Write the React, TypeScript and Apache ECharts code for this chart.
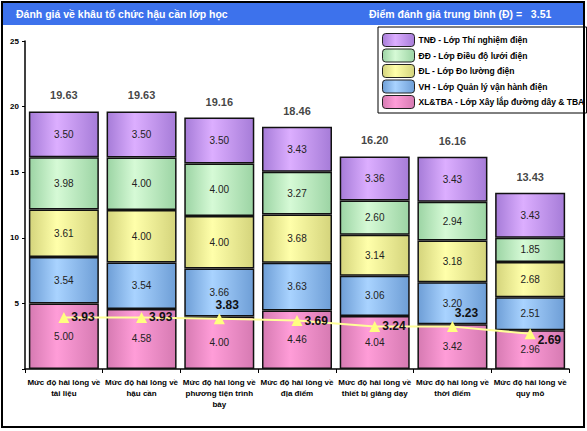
import React, { useEffect, useRef } from 'react';
import * as echarts from 'echarts';

const categories = [
  'Mức độ hài lòng về\ntài liệu',
  'Mức độ hài lòng về\nhậu cần',
  'Mức độ hài lòng về\nphương tiện trình\nbày',
  'Mức độ hài lòng về\nđịa điểm',
  'Mức độ hài lòng về\nthiết bị giảng dạy',
  'Mức độ hài lòng về\nthời điểm',
  'Mức độ hài lòng về\nquy mô',
];
const seriesNames = [
  'TNĐ - Lớp Thí nghiệm điện',
  'ĐĐ - Lớp Điều độ lưới điện',
  'ĐL - Lớp Đo lường điện',
  'VH - Lớp Quản lý vận hành điện',
  'XL&TBA - Lớp Xây lắp đường dây & TBA',
];
const xlTba = [5.0, 4.58, 4.0, 4.46, 4.04, 3.42, 2.96];
const vh = [3.54, 3.54, 3.66, 3.63, 3.06, 3.2, 2.51];
const dl = [3.61, 4.0, 4.0, 3.68, 3.14, 3.18, 2.68];
const dd = [3.98, 4.0, 4.0, 3.27, 2.6, 2.94, 1.85];
const tnd = [3.5, 3.5, 3.5, 3.43, 3.36, 3.43, 3.43];
const totals = [19.63, 19.63, 19.16, 18.46, 16.2, 16.16, 13.43];
const averages = [3.93, 3.93, 3.83, 3.69, 3.24, 3.23, 2.69];
const titleText = 'Đánh giá về khâu tổ chức hậu cần lớp học';
const scoreText = 'Điểm đánh giá trung bình (Đ) =   3.51';

const SANS = '"Liberation Sans", Arial, sans-serif';

function grad(dark: string, light: string) {
  return new echarts.graphic.LinearGradient(0, 0, 1, 0, [
    { offset: 0, color: dark },
    { offset: 0.4, color: light },
    { offset: 1, color: dark },
  ]);
}

export default function App() {
  const ref = useRef<HTMLDivElement>(null);
  useEffect(() => {
    if (!ref.current) return;
    const chart = echarts.init(ref.current, undefined, { renderer: 'svg' });
    const stackDefs = [
      { name: seriesNames[4], data: xlTba, dark: '#D67AB2', light: '#FF9DD8' },
      { name: seriesNames[3], data: vh, dark: '#6E9ED6', light: '#A9D3FF' },
      { name: seriesNames[2], data: dl, dark: '#D4D47C', light: '#FFFFAA' },
      { name: seriesNames[1], data: dd, dark: '#9CD4A4', light: '#D6FAD6' },
      { name: seriesNames[0], data: tnd, dark: '#A67CD8', light: '#DCAEFF' },
    ];
    const barSeries = stackDefs.map((d) => ({
      name: d.name,
      type: 'bar',
      stack: 'total',
      data: d.data,
      barWidth: 70,
      itemStyle: { color: grad(d.dark, d.light), borderColor: '#111', borderWidth: 1.5 },
      label: {
        show: true,
        position: 'inside',
        formatter: (p: any) => Number(p.value).toFixed(2),
        fontSize: 10,
        fontFamily: SANS,
        color: '#222',
      },
      emphasis: { disabled: true },
    }));
    const lineLabel = (i: number) => {
      if (i === 2) return { position: 'top', offset: [8, 0] };
      if (i === 5) return { position: 'top', offset: [14, 0] };
      if (i === 6) return { position: 'right', offset: [0, 6] };
      return { position: 'right', offset: [0, 0] };
    };
    const option = {
      animation: false,
      backgroundColor: '#fff',
      grid: { left: 25, right: 18, top: 41, bottom: 62 },
      graphic: [
        { type: 'rect', shape: { x: 2, y: 3, width: 582, height: 22 }, style: { fill: '#3D72EC' }, z: 0 },
        {
          type: 'text', x: 16, y: 14,
          style: { text: titleText, fill: '#fff', font: 'bold 10.5px ' + SANS, verticalAlign: 'middle' },
        },
        {
          type: 'text', x: 369, y: 14,
          style: { text: scoreText, fill: '#fff', font: 'bold 10.5px ' + SANS, verticalAlign: 'middle' },
        },
        {
          type: 'rect', shape: { x: 2, y: 2, width: 582, height: 425 },
          style: { fill: 'none', stroke: '#000', lineWidth: 2 }, z: 100,
        },
      ],
      legend: {
        data: seriesNames,
        orient: 'vertical',
        left: 378,
        top: 27,
        padding: [6, 2, 4, 4],
        itemWidth: 32,
        itemHeight: 13,
        itemGap: 1.5,
        itemStyle: { borderColor: '#222', borderWidth: 1 },
        backgroundColor: '#fff',
        borderColor: '#000',
        borderWidth: 1,
        textStyle: { fontSize: 8.5, fontWeight: 'bold', fontFamily: SANS, color: '#000', padding: [0, 0, 0, -1] },
        selectedMode: false,
      },
      xAxis: {
        type: 'category',
        data: categories,
        axisLine: { lineStyle: { color: '#000', width: 1.5 } },
        axisTick: { show: true, length: 4, lineStyle: { color: '#000' } },
        axisLabel: {
          interval: 0,
          fontSize: 8,
          fontWeight: 'bold',
          fontFamily: SANS,
          color: '#000',
          lineHeight: 11,
          margin: 8,
        },
      },
      yAxis: {
        type: 'value',
        min: 0,
        max: 25,
        interval: 5,
        splitLine: { show: false },
        axisLine: { show: true, lineStyle: { color: '#000', width: 1.5 } },
        axisTick: { show: true, length: 3, lineStyle: { color: '#000' } },
        axisLabel: {
          fontSize: 8,
          fontWeight: 'bold',
          fontFamily: SANS,
          color: '#000',
          margin: 6,
          formatter: (v: number) => (v === 0 ? '' : String(v)),
        },
      },
      series: [
        ...barSeries,
        {
          name: 'Tổng',
          type: 'scatter',
          data: totals,
          symbolSize: 1,
          itemStyle: { color: 'rgba(0,0,0,0)' },
          label: {
            show: true,
            position: 'top',
            distance: 10,
            formatter: (p: any) => Number(p.value).toFixed(2),
            fontSize: 11,
            fontWeight: 'bold',
            fontFamily: SANS,
            color: '#111',
          },
          emphasis: { disabled: true },
          z: 5,
        },
        {
          name: 'Điểm trung bình',
          type: 'line',
          data: averages.map((v, i) => ({ value: v, label: lineLabel(i) })),
          symbol: 'triangle',
          symbolSize: 11,
          lineStyle: { color: '#FFFF99', width: 2 },
          itemStyle: { color: '#FFFF80' },
          label: {
            show: true,
            formatter: (p: any) => Number(p.value).toFixed(2),
            fontSize: 12,
            fontWeight: 'bold',
            fontFamily: SANS,
            color: '#111',
            distance: 2,
          },
          emphasis: { disabled: true },
          z: 10,
        },
      ],
    };
    chart.setOption(option as any);
    return () => chart.dispose();
  }, []);
  return (
    <div
      ref={ref}
      style={{ position: 'fixed', left: 0, top: 0, width: 587, height: 431 }}
    />
  );
}
